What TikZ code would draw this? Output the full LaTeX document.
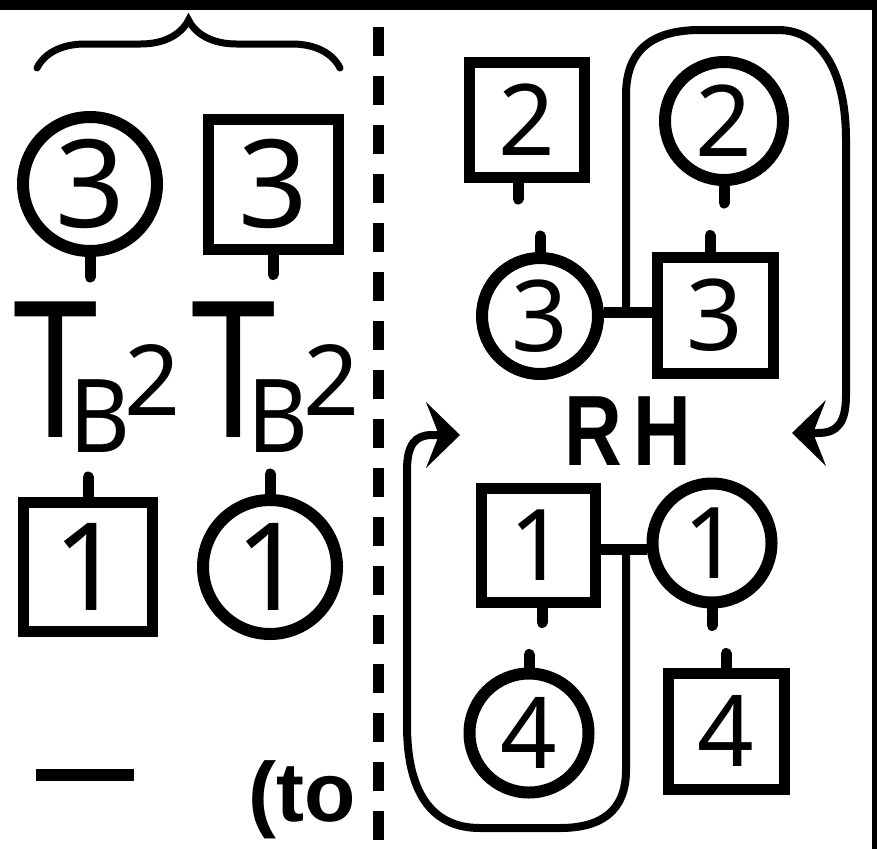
\documentclass[tikz,border=0pt]{standalone}
\usepackage{fontspec}
\setsansfont{Noto Sans}
\newfontfamily\boldsans{Liberation Sans}
\usetikzlibrary{arrows.meta,decorations.pathreplacing}
\begin{document}
\begin{tikzpicture}[x=1pt,y=-1pt,
  circ/.style={circle,draw,line width=12pt,inner sep=0pt,minimum size=#1},
  sq/.style={rectangle,draw,line width=11pt,inner sep=0pt,minimum size=#1},
  stub/.style={line width=11pt,line cap=round},
  link/.style={line width=11pt},
  loopline/.style={line width=8pt,-{Stealth[length=34pt,width=66pt,inset=13pt,line width=0pt]}},
  bigdig/.style={font=\sffamily\fontsize{122pt}{122pt}\selectfont},
  dig/.style={font=\sffamily\fontsize{99pt}{99pt}\selectfont},
  plain/.style={inner sep=0pt},
]
\useasboundingbox (0,0) rectangle (877,849);
% frame parts
\fill (0,0) rectangle (877,10);
\fill (872,0) rectangle (877,849);
% brace
\draw[line width=7pt,line cap=round,decorate,decoration={brace,amplitude=48pt}] (37,68) -- (340,68);
% dashed separator
\draw[line width=11pt,dash pattern=on 29pt off 20pt] (378.5,27) -- (378.5,849);

% left side
\node[circ=134pt,bigdig] (c3L) at (90,184) {3};
\node[sq=130pt,bigdig] (s3L) at (273,184) {3};
\draw[stub] (c3L.south) -- ++(0,20);
\draw[stub] (s3L.south) -- ++(0,20);

\node[plain,font=\sffamily\fontsize{190pt}{190pt}\selectfont] (T1) at (56,370) {\scalebox{0.8}[1]{T}};
\node[plain,font=\sffamily\fontsize{102pt}{102pt}\selectfont] (B1) at (100,416) {\scalebox{0.92}[1]{B}};
\node[plain,font=\sffamily\fontsize{98pt}{98pt}\selectfont] (P1) at (153,380) {2};
\node[plain,font=\sffamily\fontsize{190pt}{190pt}\selectfont] (T2) at (234,370) {\scalebox{0.8}[1]{T}};
\node[plain,font=\sffamily\fontsize{102pt}{102pt}\selectfont] (B2) at (278,416) {\scalebox{0.92}[1]{B}};
\node[plain,font=\sffamily\fontsize{98pt}{98pt}\selectfont] (P2) at (332,380) {2};

\node[sq=129pt,bigdig] (s1L) at (88,567) {1};
\node[circ=134pt,bigdig] (c1L) at (270,567) {1};
\draw[stub] (s1L.north) -- ++(0,-20);
\draw[stub] (c1L.north) -- ++(0,-20);

\draw[line width=12pt] (36,775) -- (134,775);
\node[plain,font=\boldsans\bfseries\fontsize{84pt}{84pt}\selectfont] (to) at (302,800) {(to};

% right side
\node[sq=115pt,dig] (s2R) at (527,120) {2};
\node[circ=118pt,dig] (c2R) at (724,121) {2};
\node[circ=116pt,dig] (c3R) at (540,316) {3};
\node[sq=116pt,dig] (s3R) at (715,315) {3};
\node[sq=114pt,dig] (s1R) at (538,545) {1};
\node[circ=119pt,dig] (c1R) at (712,543) {1};
\node[circ=119pt,dig] (c4R) at (529,733) {4};
\node[sq=116pt,dig] (s4R) at (726,731) {4};
\node[plain,font=\boldsans\bfseries\fontsize{100pt}{100pt}\selectfont] (rh) at (628,431) {\scalebox{0.8}[1]{R\hspace{14pt}H}};

\draw[stub] ([xshift=-9pt]s2R.south) -- ++(0,16);
\draw[stub] (c2R.south) -- ++(0,17);
\draw[stub] (c3R.north) -- ++(0,-16);
\draw[stub] ([xshift=-5pt]s3R.north) -- ++(0,-16);
\draw[stub] ([xshift=4pt]s1R.south) -- ++(0,15);
\draw[stub] (c1R.south) -- ++(0,17);
\draw[stub] (c4R.north) -- ++(0,-13);
\draw[stub] (s4R.north) -- ++(0,-14);

\coordinate (j3) at (626,312);
\coordinate (j1) at (626,549);
\coordinate (aR) at (792,433);
\coordinate (aL) at (460,435);
\draw[link] (c3R.east |- j3) -- (s3R.west |- j3);
\draw[link] (s1R.east |- j1) -- (c1R.west |- j1);

\draw[loopline] (j3) -- (626,95) .. controls (626,52) and (650,30) .. (700,30) -- (778,30)
  .. controls (820,30) and (846,70) .. (846,140) -- (846,395)
  .. controls (846,422) and (838,433) .. (818,433) -- (aR);
\draw[loopline] (j1) -- (626,770) .. controls (626,812) and (600,828) .. (560,828) -- (480,828)
  .. controls (430,828) and (407,790) .. (407,725) -- (407,470)
  .. controls (407,445) and (415,435) .. (432,435) -- (aL);
\end{tikzpicture}
\end{document}
